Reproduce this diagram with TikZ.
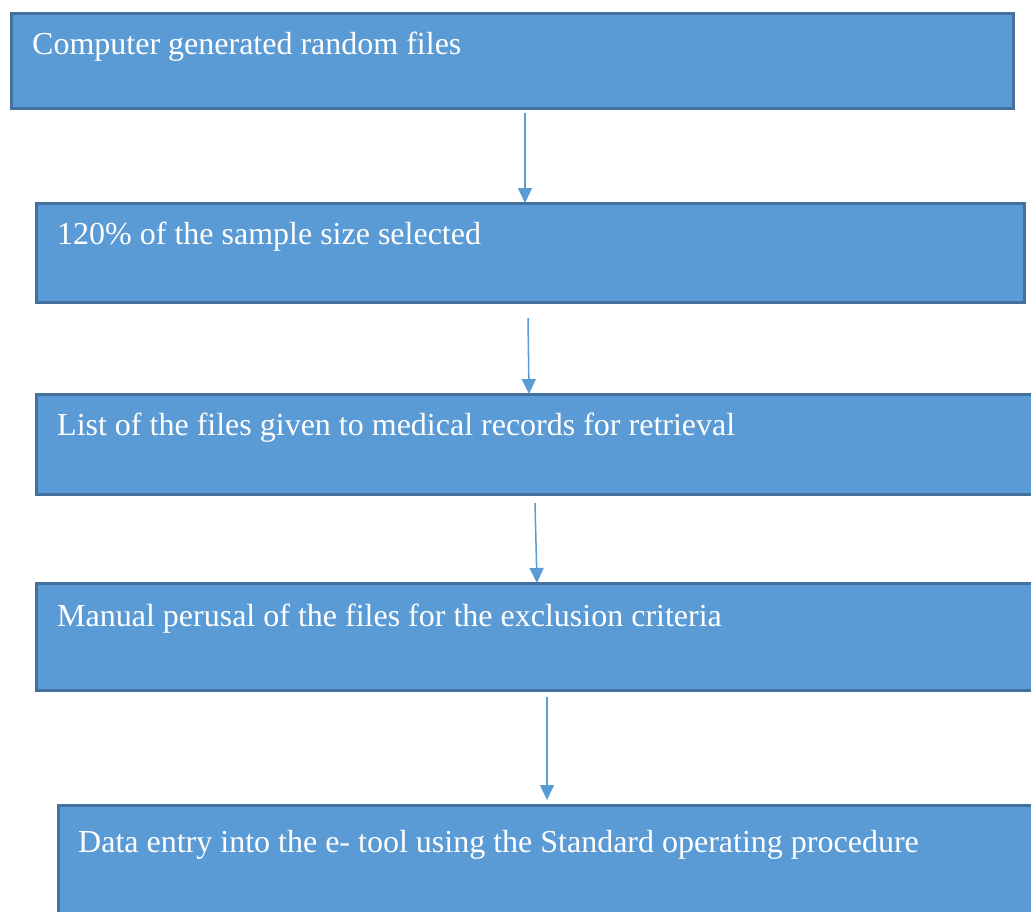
\documentclass[tikz,border=0pt]{standalone}
\usepackage{fontspec}
\setmainfont{Liberation Serif}
\usetikzlibrary{arrows.meta}
\definecolor{boxfill}{HTML}{5B9BD5}
\definecolor{boxedge}{HTML}{41719C}
\definecolor{arrowcol}{HTML}{5B9BD5}
\begin{document}
\begin{tikzpicture}[x=1pt,y=-1pt,
  stepbox/.style={draw=boxedge, line width=2.5pt, fill=boxfill, rectangle, inner sep=0pt, anchor=north west},
  steptext/.style={text=white, anchor=base west, inner sep=0pt, font=\fontsize{32}{38}\selectfont},
  arr/.style={draw=arrowcol, line width=1.5pt, -{Triangle[width=14pt,length=15pt]}}]
\useasboundingbox (0,0) rectangle (1031,911);
\clip (0,0) rectangle (1031,911);
\node[stepbox, minimum width=1002pt, minimum height=95pt] (b1) at (10,12) {};
\node[stepbox, minimum width=988pt, minimum height=99pt] (b2) at (35,202) {};
\node[stepbox, minimum width=1000pt, minimum height=100pt] (b3) at (35,393) {};
\node[stepbox, minimum width=1000pt, minimum height=107pt] (b4) at (35,582) {};
\node[stepbox, minimum width=980pt, minimum height=120pt] (b5) at (57,804) {};
\node[steptext] (t1) at (32,54) {Computer generated random files};
\node[steptext] (t2) at (57,244) {120\% of the sample size selected};
\node[steptext] (t3) at (57,435) {List of the files given to medical records for retrieval};
\node[steptext] (t4) at (57,626) {Manual perusal of the files for the exclusion criteria};
\node[steptext] (t5) at (78,852) {Data entry into the e- tool using the Standard operating procedure};
\coordinate (s1) at (525,113);
\coordinate (s2) at (528,318);
\coordinate (s3) at (535,503);
\coordinate (s4) at (547,697);
\coordinate (e1) at (525,203);
\coordinate (e2) at (529,394);
\coordinate (e3) at (537,583);
\coordinate (e4) at (547,800);
\draw[arr] (s1) -- (e1);
\draw[arr] (s2) -- (e2);
\draw[arr] (s3) -- (e3);
\draw[arr] (s4) -- (e4);
\end{tikzpicture}
\end{document}
